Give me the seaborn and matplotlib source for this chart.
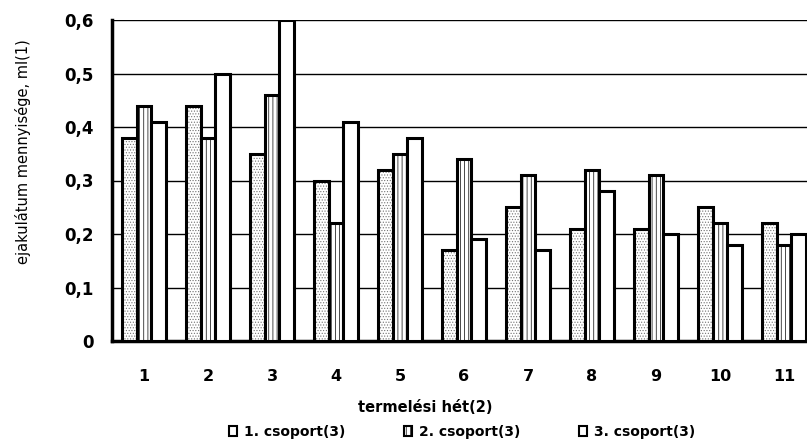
import matplotlib
matplotlib.use("Agg")
import matplotlib.pyplot as plt
import matplotlib.patches as mpatches
import seaborn as sns
import pandas as pd
import numpy as np

weeks = ["1", "2", "3", "4", "5", "6", "7", "8", "9", "10", "11"]
group1 = [0.38, 0.44, 0.35, 0.30, 0.32, 0.17, 0.25, 0.21, 0.21, 0.25, 0.22]
group2 = [0.44, 0.38, 0.46, 0.22, 0.35, 0.34, 0.31, 0.32, 0.31, 0.22, 0.18]
group3 = [0.41, 0.50, 0.60, 0.41, 0.38, 0.19, 0.17, 0.28, 0.20, 0.18, 0.20]
series_names = ["1. csoport(3)", "2. csoport(3)", "3. csoport(3)"]
y_ticks = [0, 0.1, 0.2, 0.3, 0.4, 0.5, 0.6]
y_tick_labels = ["0", "0,1", "0,2", "0,3", "0,4", "0,5", "0,6"]

sns.set_style("white")
plt.rcParams["font.family"] = ["DejaVu Sans"]
plt.rcParams["hatch.linewidth"] = 0.5
plt.rcParams["text.color"] = "black"
plt.rcParams["xtick.color"] = "black"
plt.rcParams["ytick.color"] = "black"
plt.rcParams["axes.labelcolor"] = "black"

rows = []
for name, vals in zip(series_names, [group1, group2, group3]):
    for w, v in zip(weeks, vals):
        rows.append({"week": w, "group": name, "value": v})
df = pd.DataFrame(rows)

fig = plt.figure(figsize=(8.07, 4.47), dpi=100)
ax = fig.add_axes([112 / 807, (447 - 341) / 447, 704 / 807, 321 / 447])

sns.barplot(data=df, x="week", y="value", hue="group", order=weeks,
            hue_order=series_names, palette=["white"] * 3, width=0.69,
            edgecolor="black", linewidth=2.2, ax=ax, legend=False, zorder=3)

hatches = ["......", "||||", ""]
n = len(weeks)
for i, bar in enumerate(ax.patches[:3 * n]):
    bar.set_hatch(hatches[i // n])
    if i // n == 0:
        try:
            bar.set_hatchcolor("0.45")
        except Exception:
            bar._hatch_color = (0.45, 0.45, 0.45, 1.0)

ax.set_xlim(-0.5, 10.5)
ax.set_ylim(0, 0.6)
ax.set_yticks(y_ticks)
ax.set_yticklabels(y_tick_labels, fontsize=12, fontweight="bold")
ax.yaxis.grid(True, color="black", linewidth=1.0, zorder=0)
ax.set_axisbelow(True)

ax.set_xticks(range(n))
ax.set_xticklabels(weeks, fontsize=11.5, fontweight="bold")
ax.set_xticks(np.arange(-0.5, n, 1.0), minor=True)
ax.tick_params(axis="x", which="major", length=0, pad=20)
ax.tick_params(axis="x", which="minor", length=6, width=2, direction="out", color="black")
ax.tick_params(axis="y", which="major", length=6, width=2, direction="out", color="black", pad=7)

for s in ["top", "right"]:
    ax.spines[s].set_visible(False)
for s in ["left", "bottom"]:
    ax.spines[s].set_linewidth(2.5)
    ax.spines[s].set_color("black")

ax.set_xlabel("")
ax.set_ylabel("")
fig.text(23 / 807, (447 - 152) / 447, "ejakulátum mennyisége, ml(1)", rotation=90,
         ha="center", va="center", fontsize=10.5, color="black")
fig.text(425 / 807, (447 - 407) / 447, "termelési hét(2)", ha="center", va="center",
         fontsize=10.5, fontweight="bold", color="black")

handles = [mpatches.Patch(facecolor="white", edgecolor="black", linewidth=1.5, hatch=h)
           for h in ["", "||||", ""]]
fig.legend(handles, series_names, loc="center", bbox_to_anchor=(462 / 807, (447 - 432) / 447),
           ncol=3, frameon=False, handlelength=0.6, handleheight=0.65, handletextpad=0.5,
           columnspacing=4.2, prop={"weight": "bold", "size": 10}, labelcolor="black")

fig.savefig("out.png", dpi=100)
